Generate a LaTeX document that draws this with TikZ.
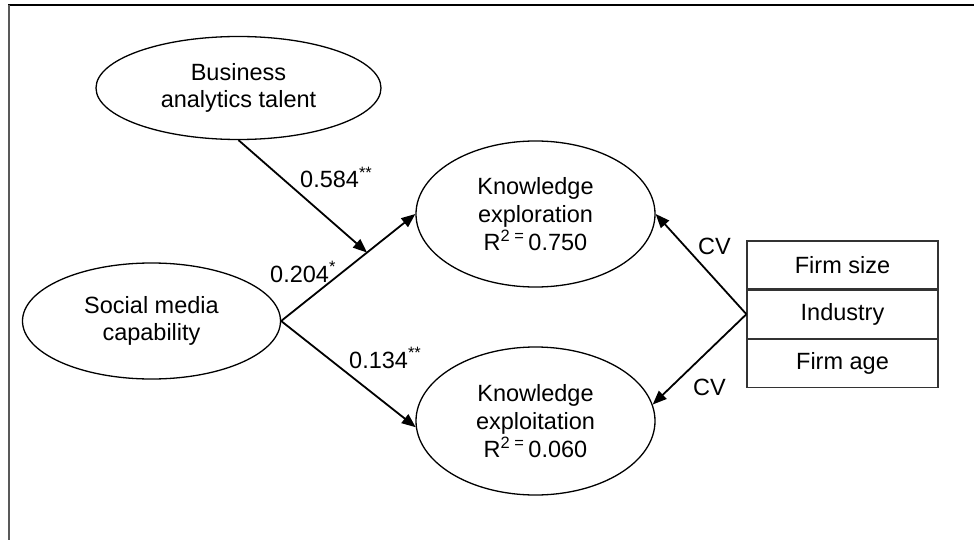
\documentclass[tikz,border=0pt]{standalone}
\usepackage{fontspec}
\setmainfont{Liberation Sans}
\usetikzlibrary{shapes.geometric,arrows.meta,calc}
\begin{document}
\begin{tikzpicture}[x=1pt,y=-1pt,
  txt/.style={font=\fontsize{23.5}{27.7}\selectfont},
  latent/.style={txt,draw,ellipse,inner sep=0pt,line width=1.3pt,align=center},
  cvrow/.style={txt,draw,rectangle,minimum width=191pt,minimum height=48pt,inner sep=0pt,line width=1.2pt,draw=black!80},
  path/.style={line width=1.8pt,-{Triangle[length=14pt,width=11pt]}},
  lbl/.style={txt,anchor=base west,inner sep=0pt}]
\useasboundingbox (0,0) rectangle (974,540);
% frame
\draw[line width=1.5pt] (8,5) -- (974,5);
\draw[line width=1.5pt,black!65] (9,5) -- (9,540);
% latent variables
\node[latent,minimum width=285pt,minimum height=103pt] (bat) at (238.5,88) {Business\\analytics talent};
\node[latent,minimum width=258pt,minimum height=116pt] (smc) at (151.5,321) {Social media\\capability};
\node[latent,minimum width=239pt,minimum height=146pt] (ke1) at (535.5,214) {Knowledge\\exploration\\R\textsuperscript{2 =}\,0.750};
\node[latent,minimum width=239pt,minimum height=148pt] (ke2) at (535.5,421) {Knowledge\\exploitation\\R\textsuperscript{2 =}\,0.060};
% control variables
\node[cvrow] (fs) at (842.5,265) {Firm size};
\node[cvrow,anchor=north] (ind) at (fs.south) {Industry};
\node[cvrow,anchor=north] (fa) at (ind.south) {Firm age};
% paths
\draw[path] (smc.east) -- (ke1.west);
\coordinate (mod) at ($(smc.east)!0.64!(ke1.west)$);
\draw[path] (bat.south) -- (mod);
\draw[path] (smc.east) -- (ke2.183);
\draw[path] (ind.west) -- (ke1.east);
\draw[path] (ind.west) -- (ke2.8);
% labels
\node[lbl] (l1) at (300,188) {0.584\textsuperscript{**}};
\node[lbl] (l2) at (270,282) {0.204\textsuperscript{*}};
\node[lbl] (l3) at (349,368) {0.134\textsuperscript{**}};
\node[lbl] (cv1) at (698,254) {CV};
\node[lbl] (cv2) at (693,395) {CV};
\end{tikzpicture}
\end{document}
